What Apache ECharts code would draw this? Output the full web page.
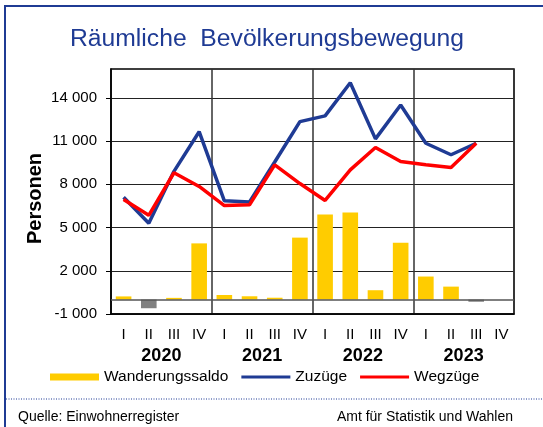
<!DOCTYPE html>
<html>
<head>
<meta charset="utf-8">
<script src="https://cdn.jsdelivr.net/npm/echarts@6/dist/echarts.min.js"></script>
<style>
  html, body { margin: 0; padding: 0; background: #fff; }
  #chart { width: 543px; height: 427px; }
</style>
</head>
<body>
<div id="chart"></div>
<script>
// Quartale je Jahr
const quarters = ["I", "II", "III", "IV", "I", "II", "III", "IV", "I", "II", "III", "IV", "I", "II", "III", "IV"];
const years = ["2020", "2021", "2022", "2023"];
const yTicks = [-1000, 2000, 5000, 8000, 11000, 14000];

const saldo = [220, -600, 120, 3900, 320, 230, 130, 4300, 5900, 6050, 650, 3950, 1600, 900, -150, null];
const zuzuege = [7100, 5300, 8900, 11650, 6850, 6780, 9550, 12350, 12750, 15050, 11150, 13500, 10850, 10050, 10850, null];
const wegzuege = [6950, 5850, 8800, 7850, 6520, 6580, 9350, 8050, 6880, 9000, 10550, 9580, 9350, 9170, 10850, null];

const navy = "#1F3B94";
const font = "'Liberation Sans', Arial, sans-serif";
// Linien-Symbol für die Legende (ohne Punkt)
const lineIcon = "path://M0,0L0.01,0L0,0.01Z M0,7L0.01,7L0,6.99Z M0,2L49,2L49,5L0,5Z";

const chart = echarts.init(document.getElementById("chart"));

function fmt(v) {
  return String(v).replace(/\B(?=(\d{3})+(?!\d))/g, " ");
}

const option = {
  animation: false,
  textStyle: { fontFamily: font, color: "#000" },
  title: {
    text: "Räumliche  Bevölkerungsbewegung",
    left: 65,
    top: 22,
    textStyle: { fontFamily: font, fontSize: 24.7, fontWeight: "normal", color: navy }
  },
  legend: {
    left: 50,
    top: 369,
    padding: 0,
    itemWidth: 49,
    itemHeight: 7,
    itemGap: 13,
    textStyle: { fontFamily: font, fontSize: 15.5, color: "#000" },
    data: [
      { name: "Wanderungssaldo", icon: "rect" },
      { name: "Zuzüge", icon: lineIcon },
      { name: "Wegzüge", icon: lineIcon }
    ]
  },
  grid: {
    left: 111,
    right: 29,
    top: 69,
    bottom: 113,
    show: true,
    borderColor: "#000",
    borderWidth: 1.5
  },
  xAxis: [
    {
      type: "category",
      data: quarters,
      axisLine: { onZero: false, lineStyle: { color: "#000", width: 1.5 } },
      axisTick: { show: false },
      axisLabel: { interval: 0, margin: 13, fontSize: 15, fontFamily: font, color: "#000" }
    },
    {
      type: "category",
      data: years,
      position: "bottom",
      axisLine: { show: false },
      axisTick: { show: false },
      axisLabel: { margin: 33, fontSize: 18, fontWeight: "bold", fontFamily: font, color: "#000" },
      splitLine: { show: true, lineStyle: { color: "#333", width: 1.5 } }
    }
  ],
  yAxis: {
    type: "value",
    min: -1000,
    max: 16000,
    name: "Personen",
    nameLocation: "middle",
    nameGap: 66,
    nameMoveOverlap: false,
    nameTextStyle: { fontFamily: font, fontSize: 20, fontWeight: "bold", color: "#000", padding: [0, 14, 0, 0] },
    axisLine: { show: true, lineStyle: { color: "#000", width: 1.5 } },
    axisTick: { show: true, length: 5, customValues: yTicks, lineStyle: { color: "#000" } },
    axisLabel: { customValues: yTicks, margin: 14, fontSize: 15, fontFamily: font, color: "#000", formatter: fmt },
    splitLine: { show: true, lineStyle: { color: "#222", width: 1.2 } }
  },
  series: [
    {
      name: "Wanderungssaldo",
      type: "bar",
      barWidth: "62%",
      itemStyle: { color: "#FFCC00" },
      data: saldo.map(v => ({ value: v, itemStyle: { color: v < 0 ? "#808080" : "#FFCC00" } })),
      markLine: {
        silent: true,
        symbol: "none",
        label: { show: false },
        lineStyle: { color: "#555", width: 1.5, type: "solid" },
        data: [{ yAxis: 0 }]
      }
    },
    {
      name: "Zuzüge",
      type: "line",
      data: zuzuege,
      symbol: "none",
      color: navy,
      lineStyle: { color: navy, width: 3.5 }
    },
    {
      name: "Wegzüge",
      type: "line",
      data: wegzuege,
      symbol: "none",
      color: "#FF0000",
      lineStyle: { color: "#FF0000", width: 3.5 }
    }
  ],
  graphic: [
    {
      type: "rect",
      shape: { x: 5, y: 6, width: 700, height: 600 },
      style: { fill: null, stroke: navy, lineWidth: 2 }
    },
    {
      type: "line",
      shape: { x1: 6, y1: 399, x2: 543, y2: 399 },
      style: { stroke: navy, lineWidth: 1, lineDash: [1, 1.5] }
    },
    {
      type: "text",
      left: 18,
      top: 410,
      style: { text: "Quelle: Einwohnerregister", font: "14px " + font, fill: "#000" }
    },
    {
      type: "text",
      right: 30,
      top: 410,
      style: { text: "Amt für Statistik und Wahlen", font: "14px " + font, fill: "#000" }
    }
  ]
};

chart.setOption(option);
</script>
</body>
</html>
